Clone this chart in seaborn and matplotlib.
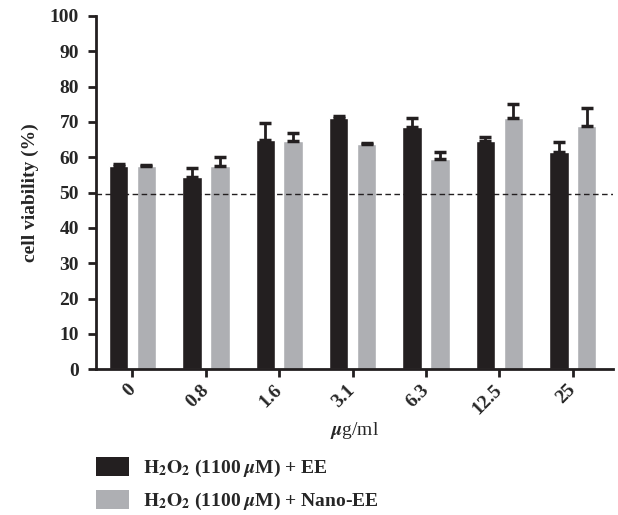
import matplotlib
matplotlib.use("Agg")
import matplotlib.pyplot as plt
import seaborn as sns
import pandas as pd
import numpy as np
from matplotlib.patches import Patch

concentrations = ["0", "0.8", "1.6", "3.1", "6.3", "12.5", "25"]
ee_mean = [57.6, 54.3, 64.9, 71.0, 68.6, 64.6, 61.4]
ee_err = [0.4, 2.6, 4.7, 0.8, 2.4, 1.0, 2.8]
nano_mean = [57.6, 57.6, 64.6, 63.7, 59.6, 71.0, 68.9]
nano_err = [0.3, 2.4, 2.2, 0.3, 2.0, 4.2, 5.1]
series = [r"$\mathbf{H_2O_2}$ (1100 $\mu$M) + EE", r"$\mathbf{H_2O_2}$ (1100 $\mu$M) + Nano-EE"]
threshold = 49.5

sns.set_style("ticks")
plt.rcParams["font.family"] = ["Liberation Serif", "DejaVu Serif"]
plt.rcParams["mathtext.fontset"] = "stix"
plt.rcParams["font.weight"] = "bold"

df = pd.DataFrame({
    "conc": concentrations * 2,
    "value": ee_mean + nano_mean,
    "group": [series[0]] * len(concentrations) + [series[1]] * len(concentrations),
})

dark = "#231f20"
gray = "#aeafb3"
FS = 14

fig = plt.figure(figsize=(6.18, 5.15), dpi=100)
ax = fig.add_axes([0.155, 0.283, 0.837, 0.686])

sns.barplot(data=df, x="conc", y="value", hue="group", order=concentrations,
            hue_order=series, palette=[dark, gray], width=0.76, gap=0.3,
            errorbar=None, ax=ax, legend=False, saturation=1)

# error bars (upper only)
for container, means, errs in zip(ax.containers, [ee_mean, nano_mean], [ee_err, nano_err]):
    xs = [p.get_x() + p.get_width() / 2 for p in container.patches]
    ax.errorbar(xs, means, yerr=[np.zeros(len(errs)), errs], fmt="none",
                ecolor=dark, elinewidth=2, capsize=4, capthick=2.5, zorder=1)

ax.axhline(threshold, color=dark, linestyle=(0, (4, 2.5)), linewidth=1, zorder=3)

ax.set_ylim(0, 100)
ax.set_xlim(-0.5, 6.55)
ax.set_yticks(range(0, 101, 10))
ax.tick_params(axis="y", width=2, length=6, pad=6, labelsize=FS, color=dark)
ax.tick_params(axis="x", width=2, length=6, pad=7, labelsize=FS, color=dark)
for lbl in ax.get_yticklabels():
    lbl.set_fontweight("bold")
ax.set_xticks(range(len(concentrations)))
ax.set_xticklabels(concentrations, rotation=45, ha="right", va="center",
                   rotation_mode="anchor", fontweight="bold", fontsize=FS)
ax.set_ylabel("cell viability (%)", fontsize=FS, fontweight="bold", labelpad=8)
ax.set_xlabel(r"$\mu$g/ml", fontsize=FS, fontweight="normal", labelpad=2)

for s in ["left", "bottom"]:
    ax.spines[s].set_linewidth(2)
    ax.spines[s].set_color(dark)
sns.despine(ax=ax)

handles = [Patch(facecolor=dark, edgecolor="none"), Patch(facecolor=gray, edgecolor="none")]
fig.legend(handles, series, loc="upper left", bbox_to_anchor=(0.155, 0.1126),
           frameon=False, handlelength=1.7, handleheight=1.13, labelspacing=0.55,
           handletextpad=0.72, borderpad=0, borderaxespad=0,
           prop={"size": FS, "weight": "bold"})

fig.savefig("out.png", dpi=100)
